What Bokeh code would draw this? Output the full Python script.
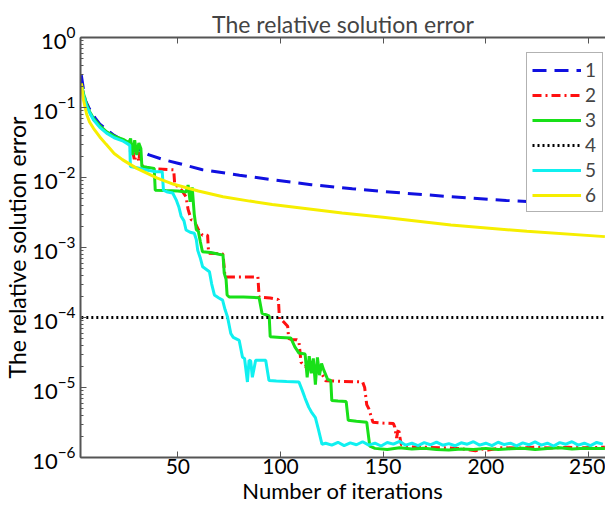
from bokeh.plotting import figure
from bokeh.models import (FixedTicker, LinearAxis, Legend, LegendItem, Range1d)
from bokeh.embed import file_html
from bokeh.resources import INLINE

# ---------------- data ----------------
title_text = "The relative solution error"
x_label = "Number of iterations"
y_label = "The relative solution error"
x_ticks = [50, 100, 150, 200, 250]
legend_labels = ["1", "2", "3", "4", "5", "6"]

s1_pts = [(3, 0.29), (4.8, 0.13), (7, 0.095), (9.7, 0.071), (12, 0.058), (15, 0.049),
          (19, 0.040), (23, 0.034), (27, 0.029), (30, 0.026), (36, 0.021), (43, 0.018),
          (50, 0.016), (62, 0.0129), (80, 0.0108), (96, 0.0093), (115, 0.0079),
          (135, 0.0069), (150, 0.0063), (180, 0.0054), (210, 0.0047), (235, 0.0043),
          (258, 0.0039)]

s2_pts = [(3, 0.22), (4, 0.155), (5.6, 0.107), (7, 0.086), (8.9, 0.068), (12, 0.054),
          (15.3, 0.044), (19, 0.038), (23.4, 0.034), (25, 0.032), (26.6, 0.030),
          (27, 0.022), (28, 0.024), (29, 0.017), (30, 0.025), (31, 0.017), (31.5, 0.023),
          (33, 0.0136), (40, 0.0133), (48, 0.0129), (48.5, 0.0078), (50, 0.0075),
          (52, 0.0065), (54, 0.0053), (55, 0.0035), (56.5, 0.0025), (58, 0.0024),
          (60, 0.0018), (62, 0.0015), (64.5, 0.0015), (65, 0.00083), (68, 0.00082),
          (71, 0.00082), (72, 0.0008), (73, 0.00038), (80, 0.00038), (89, 0.00038),
          (89.6, 0.000196), (95, 0.00019), (99, 0.00018), (99.5, 9.5e-5), (101, 9e-5),
          (103.5, 7.5e-5), (104, 5e-5), (106, 4.8e-5), (108, 4.8e-5), (109, 4.5e-5),
          (110, 2.3e-5), (112, 2.0e-5), (114, 2.3e-5), (116, 1.8e-5), (118, 2.1e-5),
          (120, 1.6e-5), (122, 1.25e-5), (130, 1.22e-5), (140, 1.2e-5), (141, 1.0e-5),
          (142, 5.7e-6), (143, 5.0e-6), (145, 3.2e-6), (150, 3.1e-6), (155, 3.05e-6),
          (155.7, 2.7e-6), (156.5, 1.9e-6), (157.5, 2.6e-6), (158.5, 1.7e-6),
          (159, 1.5e-6), (162, 1.42e-6), (170, 1.4e-6), (178, 1.38e-6), (186, 1.35e-6),
          (191, 1.3e-6), (195, 1.25e-6), (198, 1.32e-6), (201, 1.28e-6), (208, 1.38e-6),
          (216, 1.36e-6), (224, 1.4e-6), (232, 1.37e-6), (240, 1.4e-6), (248, 1.38e-6),
          (258, 1.4e-6)]

s3_pts = [(3, 0.22), (4, 0.16), (5.6, 0.11), (7, 0.088), (8.9, 0.07), (12, 0.055),
          (15.3, 0.045), (19, 0.039), (23.4, 0.035), (25, 0.033), (26, 0.031),
          (27, 0.036), (28, 0.021), (29, 0.034), (30, 0.021), (31, 0.031), (32, 0.026),
          (32.5, 0.0144), (35, 0.014), (38.5, 0.0135), (39, 0.0066), (44, 0.0065),
          (50, 0.0064), (54, 0.0062), (55, 0.0078), (56, 0.0045), (57, 0.0072),
          (58, 0.003), (59, 0.0018), (60, 0.0017), (61, 0.0012), (62, 0.00087),
          (66, 0.00085), (70, 0.0008), (72, 0.00078), (72.6, 0.00043), (73.5, 0.00035),
          (74, 0.00021), (75, 0.000196), (82, 0.000196), (89.6, 0.000192),
          (91, 0.000115), (94.5, 0.000105), (95, 5.3e-5), (100, 5.2e-5), (105, 5.1e-5),
          (107, 3.8e-5), (109, 3.1e-5), (112, 3.0e-5), (113, 1.4e-5), (114, 2.8e-5),
          (115, 1.6e-5), (116, 2.6e-5), (117, 1.1e-5), (118, 2.7e-5), (119, 1.5e-5),
          (120, 2.2e-5), (121, 1.8e-5), (123, 1.3e-5), (124.5, 1.26e-5), (125, 6.5e-6),
          (128, 6.4e-6), (132, 6.3e-6), (133, 3.4e-6), (137, 3.3e-6), (142, 3.2e-6),
          (143.5, 1.45e-6), (146, 1.35e-6), (152, 1.3e-6), (158, 1.38e-6),
          (164, 1.32e-6), (170, 1.36e-6), (176, 1.3e-6), (182, 1.28e-6), (188, 1.32e-6),
          (194, 1.3e-6), (200, 1.35e-6), (206, 1.3e-6), (212, 1.33e-6), (218, 1.36e-6),
          (224, 1.3e-6), (230, 1.34e-6), (236, 1.38e-6), (242, 1.32e-6), (248, 1.36e-6),
          (254, 1.34e-6), (258, 1.35e-6)]

s4_pts = [(3, 1e-4), (258, 1e-4)]

s5_pts = [(3, 0.21), (4, 0.15), (5.6, 0.104), (7, 0.085), (8.9, 0.067), (12, 0.052),
          (15.3, 0.043), (19, 0.037), (23.4, 0.033), (25, 0.031), (26.6, 0.029),
          (26.9, 0.0144), (30, 0.0138), (33, 0.0131), (36, 0.0126), (39.5, 0.0121),
          (42.4, 0.0121), (43, 0.0066), (45, 0.0062), (47.5, 0.006), (49.2, 0.0048),
          (50.5, 0.0038), (51.6, 0.0028), (53, 0.0024), (54, 0.00178), (56, 0.00165),
          (58, 0.0016), (59, 0.0013), (59.7, 0.00091), (61, 0.0007), (62.1, 0.00053),
          (65.4, 0.00045), (66.5, 0.0003), (67.8, 0.00021), (70, 0.00019),
          (71.8, 0.000177), (73, 0.00013), (74.2, 0.000102), (75.8, 5.9e-5),
          (77, 5.2e-5), (79.9, 4.7e-5), (81.5, 2.7e-5), (82.5, 2.6e-5), (83.9, 1.2e-5),
          (84.7, 2.45e-5), (85.5, 2.4e-5), (86.3, 1.4e-5), (87.9, 2.45e-5),
          (90, 2.45e-5), (92.8, 2.45e-5), (94.4, 1.26e-5), (98, 1.24e-5),
          (103, 1.22e-5), (109, 1.2e-5), (110.6, 9.1e-6), (112, 7e-6), (113.8, 5.2e-6),
          (115, 4.5e-6), (117, 3.7e-6), (118.5, 2.5e-6), (120.2, 1.55e-6),
          (122, 1.6e-6), (125, 1.5e-6), (128, 1.65e-6), (131, 1.48e-6), (134, 1.62e-6),
          (137, 1.52e-6), (140, 1.68e-6), (143, 1.5e-6), (146, 1.6e-6), (149, 1.46e-6),
          (152, 1.64e-6), (155, 1.55e-6), (158, 1.7e-6), (161, 1.5e-6), (164, 1.6e-6),
          (167, 1.48e-6), (170, 1.63e-6), (173, 1.52e-6), (176, 1.66e-6), (179, 1.5e-6),
          (182, 1.58e-6), (185, 1.47e-6), (188, 1.62e-6), (191, 1.55e-6),
          (194, 1.68e-6), (197, 1.5e-6), (200, 1.6e-6), (203, 1.48e-6), (206, 1.65e-6),
          (209, 1.53e-6), (212, 1.6e-6), (215, 1.47e-6), (218, 1.62e-6),
          (221, 1.52e-6), (224, 1.67e-6), (227, 1.5e-6), (230, 1.6e-6), (233, 1.46e-6),
          (236, 1.63e-6), (239, 1.55e-6), (242, 1.68e-6), (245, 1.5e-6), (248, 1.6e-6),
          (251, 1.48e-6), (254, 1.64e-6), (257, 1.55e-6)]

s6_pts = [(3, 0.22), (4, 0.13), (5.6, 0.08), (7, 0.062), (9, 0.05), (12, 0.038),
          (15, 0.030), (19, 0.022), (23, 0.018), (30, 0.0135), (40, 0.0098),
          (48, 0.008), (60, 0.0064), (72, 0.0053), (85, 0.0046), (96, 0.0041),
          (112, 0.0036), (130, 0.0031), (150, 0.0027), (183, 0.0021), (220, 0.0017),
          (258, 0.00143)]

# ---------------- styling ----------------
FONT = "Lato"
series = [
    (s1_pts, "#1010e0", "14 8", 3),
    (s2_pts, "#ff1010", "9 4 2 4", 3),
    (s3_pts, "#18e018", "solid", 3),
    (s4_pts, "#000000", "2 3", 3),
    (s5_pts, "#10f0f0", "solid", 3),
    (s6_pts, "#f6ee00", "solid", 3),
]

p = figure(width=605, height=506, y_axis_type="log",
           x_range=Range1d(2.6, 258.3), y_range=Range1d(1e-6, 1.0),
           output_backend="svg", toolbar_location=None,
           min_border_left=77, min_border_right=0, min_border_top=37,
           min_border_bottom=49)

p.title.text = title_text
p.title.text_font = FONT
p.title.text_font_size = "23px"
p.title.text_font_style = "normal"
p.title.align = "center"
p.title.standoff = 0

p.xgrid.visible = False
p.ygrid.visible = False
p.outline_line_color = None
p.background_fill_color = "white"
p.border_fill_color = "white"

axis_col = "#555555"
for ax in (p.xaxis[0], p.yaxis[0]):
    ax.axis_line_color = axis_col
    ax.axis_line_width = 2
    ax.major_tick_line_color = axis_col
    ax.minor_tick_line_color = axis_col
    ax.major_tick_in = 6
    ax.major_tick_out = 0
    ax.minor_tick_in = 3
    ax.minor_tick_out = 0
    ax.major_label_text_font = FONT
    ax.major_label_text_color = "black"
    ax.axis_label_text_font = FONT
    ax.axis_label_text_font_style = "normal"
    ax.axis_label_text_color = "black"

p.yaxis.major_label_text_font_size = "22px"
p.yaxis.axis_label_text_font_size = "23px"
p.xaxis.major_label_text_font_size = "21px"
p.xaxis.axis_label_text_font_size = "22px"

p.xaxis.ticker = FixedTicker(ticks=x_ticks)
p.xaxis.minor_tick_line_color = None
p.xaxis.axis_label = x_label
p.xaxis.major_label_standoff = 1
p.xaxis.axis_label_standoff = 0
p.yaxis.axis_label = y_label
p.yaxis.major_label_standoff = 5
p.yaxis.axis_label_standoff = -2

top = LinearAxis(ticker=FixedTicker(ticks=x_ticks), major_label_text_font_size="1px",
                 major_label_text_color=None,
                 axis_line_color=axis_col, axis_line_width=2,
                 major_tick_line_color=axis_col, major_tick_in=6, major_tick_out=0,
                 minor_tick_line_color=None, major_label_standoff=0)
p.add_layout(top, "above")

items = []
for (pts, col, dash, w), lab in zip(series, legend_labels):
    xs = [a for a, b in pts]
    ys = [b for a, b in pts]
    r = p.line(xs, ys, line_color=col, line_width=w, line_dash=dash)
    items.append(LegendItem(label=lab, renderers=[r]))

leg = Legend(items=items, location=(446, 245))
leg.label_text_font = FONT
leg.label_text_font_size = "19px"
leg.glyph_width = 49
leg.glyph_height = 20
leg.label_height = 20
leg.label_width = 12
leg.label_standoff = 4
leg.spacing = 2
leg.padding = 5
leg.margin = 0
leg.border_line_color = "#666666"
leg.border_line_width = 1
leg.background_fill_alpha = 1
p.add_layout(leg, "center")

open("out.html", "w").write(file_html(p, INLINE))
